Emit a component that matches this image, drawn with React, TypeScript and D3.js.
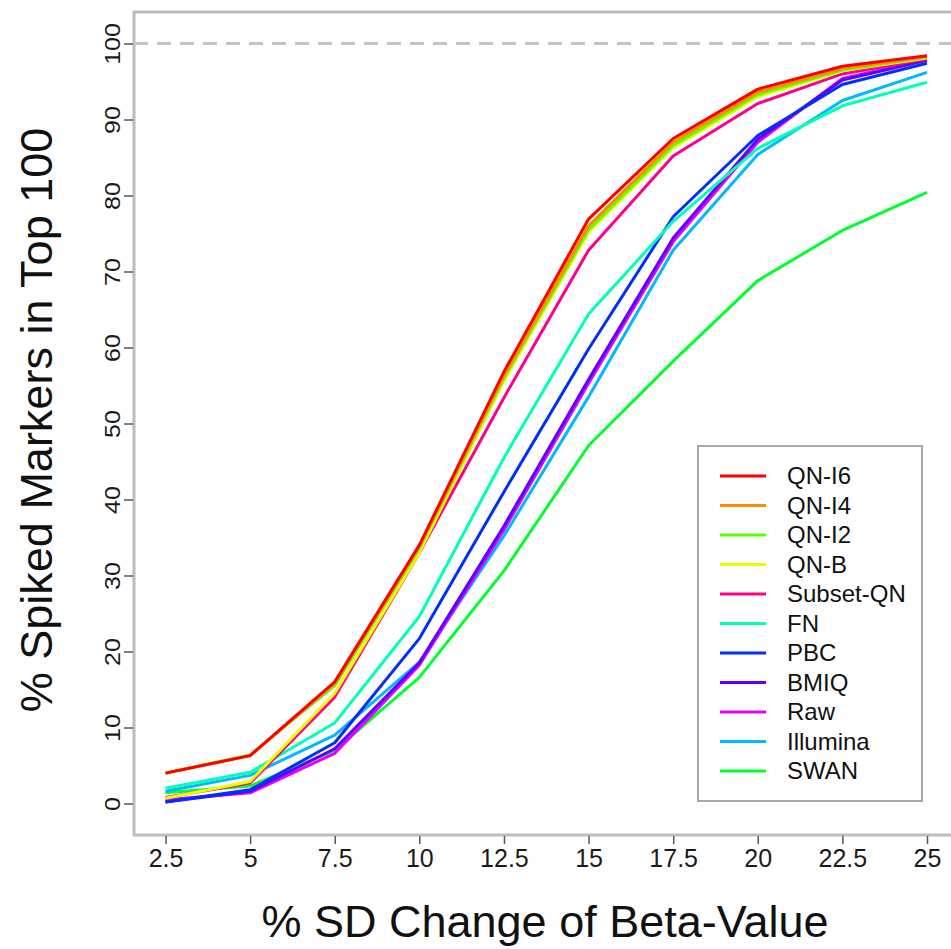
import React, { useEffect, useRef } from 'react';
import * as d3 from 'd3';

// x values (% SD change of beta-value)
const xValues = [2.5, 5, 7.5, 10, 12.5, 15, 17.5, 20, 22.5, 25];
const xTickLabels = ['2.5', '5', '7.5', '10', '12.5', '15', '17.5', '20', '22.5', '25'];
const yTicks = [0, 10, 20, 30, 40, 50, 60, 70, 80, 90, 100];

const seriesNames = ['QN-I6', 'QN-I4', 'QN-I2', 'QN-B', 'Subset-QN', 'FN', 'PBC', 'BMIQ', 'Raw', 'Illumina', 'SWAN'];
const seriesColors = ['#FF0000', '#FF8B00', '#5DFF00', '#E8FF00', '#FF008B', '#00FFB9', '#002EFF', '#5D00FF', '#E800FF', '#00B9FF', '#00FF2E'];

const qnI6 = [4.0, 6.3, 16.0, 34.0, 56.8, 76.9, 87.5, 94.0, 97.0, 98.4];
const qnI4 = [4.0, 6.3, 15.8, 33.8, 56.3, 76.0, 87.0, 93.6, 96.7, 98.3];
const qnI2 = [4.0, 6.4, 15.5, 33.6, 56.0, 75.5, 86.6, 93.3, 96.5, 98.2];
const qnB = [0.7, 2.9, 14.5, 33.0, 55.6, 75.2, 86.3, 93.0, 96.4, 98.1];
const subsetQN = [0.8, 2.7, 14.0, 33.0, 53.4, 72.8, 85.2, 92.1, 96.0, 98.0];
const fn = [2.0, 4.1, 10.6, 24.6, 45.5, 64.4, 76.6, 86.2, 91.8, 94.9];
const pbc = [0.2, 1.8, 8.0, 21.7, 41.0, 59.8, 77.2, 87.9, 94.6, 97.4];
const bmiq = [0.2, 1.6, 7.2, 18.5, 36.5, 55.8, 74.4, 87.4, 95.2, 97.8];
const raw = [0.5, 1.4, 6.6, 18.2, 36.0, 55.3, 73.9, 87.0, 95.4, 97.9];
const illumina = [1.6, 3.7, 9.0, 18.6, 35.2, 53.5, 72.8, 85.4, 92.5, 96.2];
const swan = [1.4, 2.3, 7.0, 16.6, 30.6, 47.1, 58.2, 68.8, 75.4, 80.4];

const seriesValues = [qnI6, qnI4, qnI2, qnB, subsetQN, fn, pbc, bmiq, raw, illumina, swan];

const FONT = '"Liberation Sans", Arial, Helvetica, sans-serif';

function App() {
  const ref = useRef<SVGSVGElement>(null);

  useEffect(() => {
    if (!ref.current) return;
    const svg = d3.select(ref.current);
    svg.selectAll('*').remove();

    const box = { left: 134, top: 12, right: 962, bottom: 835 };

    const x = d3.scaleLinear().domain([2.5, 25]).range([165.5, 927]);
    const y = d3.scaleLinear().domain([0, 100]).range([803.5, 43.5]);

    // reference line at 100
    svg.append('line')
      .attr('x1', box.left).attr('x2', box.right)
      .attr('y1', y(100)).attr('y2', y(100))
      .attr('stroke', '#c4c4c4')
      .attr('stroke-width', 3)
      .attr('stroke-dasharray', '14 9');

    // lines, last legend entry drawn first
    const line = d3.line<number>()
      .x((d, i) => x(xValues[i]))
      .y(d => y(d));

    const order = d3.range(seriesNames.length).reverse();
    svg.append('g')
      .selectAll('path')
      .data(order)
      .join('path')
        .attr('d', i => line(seriesValues[i]))
        .attr('fill', 'none')
        .attr('stroke', i => seriesColors[i])
        .attr('stroke-width', 3)
        .attr('stroke-linejoin', 'round');

    // plot frame
    svg.append('rect')
      .attr('x', box.left).attr('y', box.top)
      .attr('width', box.right - box.left)
      .attr('height', box.bottom - box.top)
      .attr('fill', 'none')
      .attr('stroke', '#bdbdbd')
      .attr('stroke-width', 3);

    // y axis
    const yAxis = svg.append('g')
      .attr('transform', `translate(${box.left - 1},0)`)
      .call(d3.axisLeft(y).tickValues(yTicks).tickSize(9).tickSizeOuter(0));
    yAxis.select('.domain').remove();
    yAxis.selectAll('line').attr('stroke', '#555').attr('stroke-width', 1.5);
    yAxis.selectAll('text')
      .attr('x', 0).attr('dy', 0)
      .attr('transform', 'translate(-13,0) rotate(-90) scale(1,0.85)')
      .attr('text-anchor', 'middle')
      .style('font-family', FONT)
      .style('font-size', '25px')
      .attr('fill', '#1a1a1a');

    // x axis
    const xAxis = svg.append('g')
      .attr('transform', `translate(0,${box.bottom + 1})`)
      .call(d3.axisBottom(x).tickValues(xValues).tickFormat((d, i) => xTickLabels[i]).tickSize(8).tickSizeOuter(0));
    xAxis.select('.domain').remove();
    xAxis.selectAll('line').attr('stroke', '#555').attr('stroke-width', 1.5);
    xAxis.selectAll('text')
      .attr('y', 31).attr('dy', 0)
      .style('font-family', FONT)
      .style('font-size', '25px')
      .attr('fill', '#1a1a1a');

    // axis titles
    svg.append('text')
      .attr('x', 545).attr('y', 937)
      .attr('text-anchor', 'middle')
      .style('font-family', FONT)
      .style('font-size', '45px')
      .attr('fill', '#111')
      .text('% SD Change of Beta-Value');

    svg.append('text')
      .attr('transform', 'translate(52,420) rotate(-90)')
      .attr('text-anchor', 'middle')
      .style('font-family', FONT)
      .style('font-size', '45px')
      .attr('fill', '#111')
      .text('% Spiked Markers in Top 100');

    // legend
    const legend = svg.append('g');
    legend.append('rect')
      .attr('x', 698).attr('y', 446)
      .attr('width', 224).attr('height', 355)
      .attr('fill', 'white')
      .attr('stroke', '#a8a8a8')
      .attr('stroke-width', 2);

    const rows = legend.selectAll('g.row')
      .data(seriesNames)
      .join('g')
        .attr('class', 'row')
        .attr('transform', (d, i) => `translate(0,${476 + i * 29.5})`);
    rows.append('line')
      .attr('x1', 720).attr('x2', 766)
      .attr('stroke', (d, i) => seriesColors[i])
      .attr('stroke-width', 3);
    rows.append('text')
      .attr('x', 787).attr('y', 8)
      .style('font-family', FONT)
      .style('font-size', '24px')
      .attr('fill', '#111')
      .text(d => d);
  });

  return (
    <div style={{ position: 'absolute', left: 0, top: 0 }}>
      <svg ref={ref} width={951} height={949} style={{ display: 'block', background: 'white' }}></svg>
    </div>
  );
}

export default App;
